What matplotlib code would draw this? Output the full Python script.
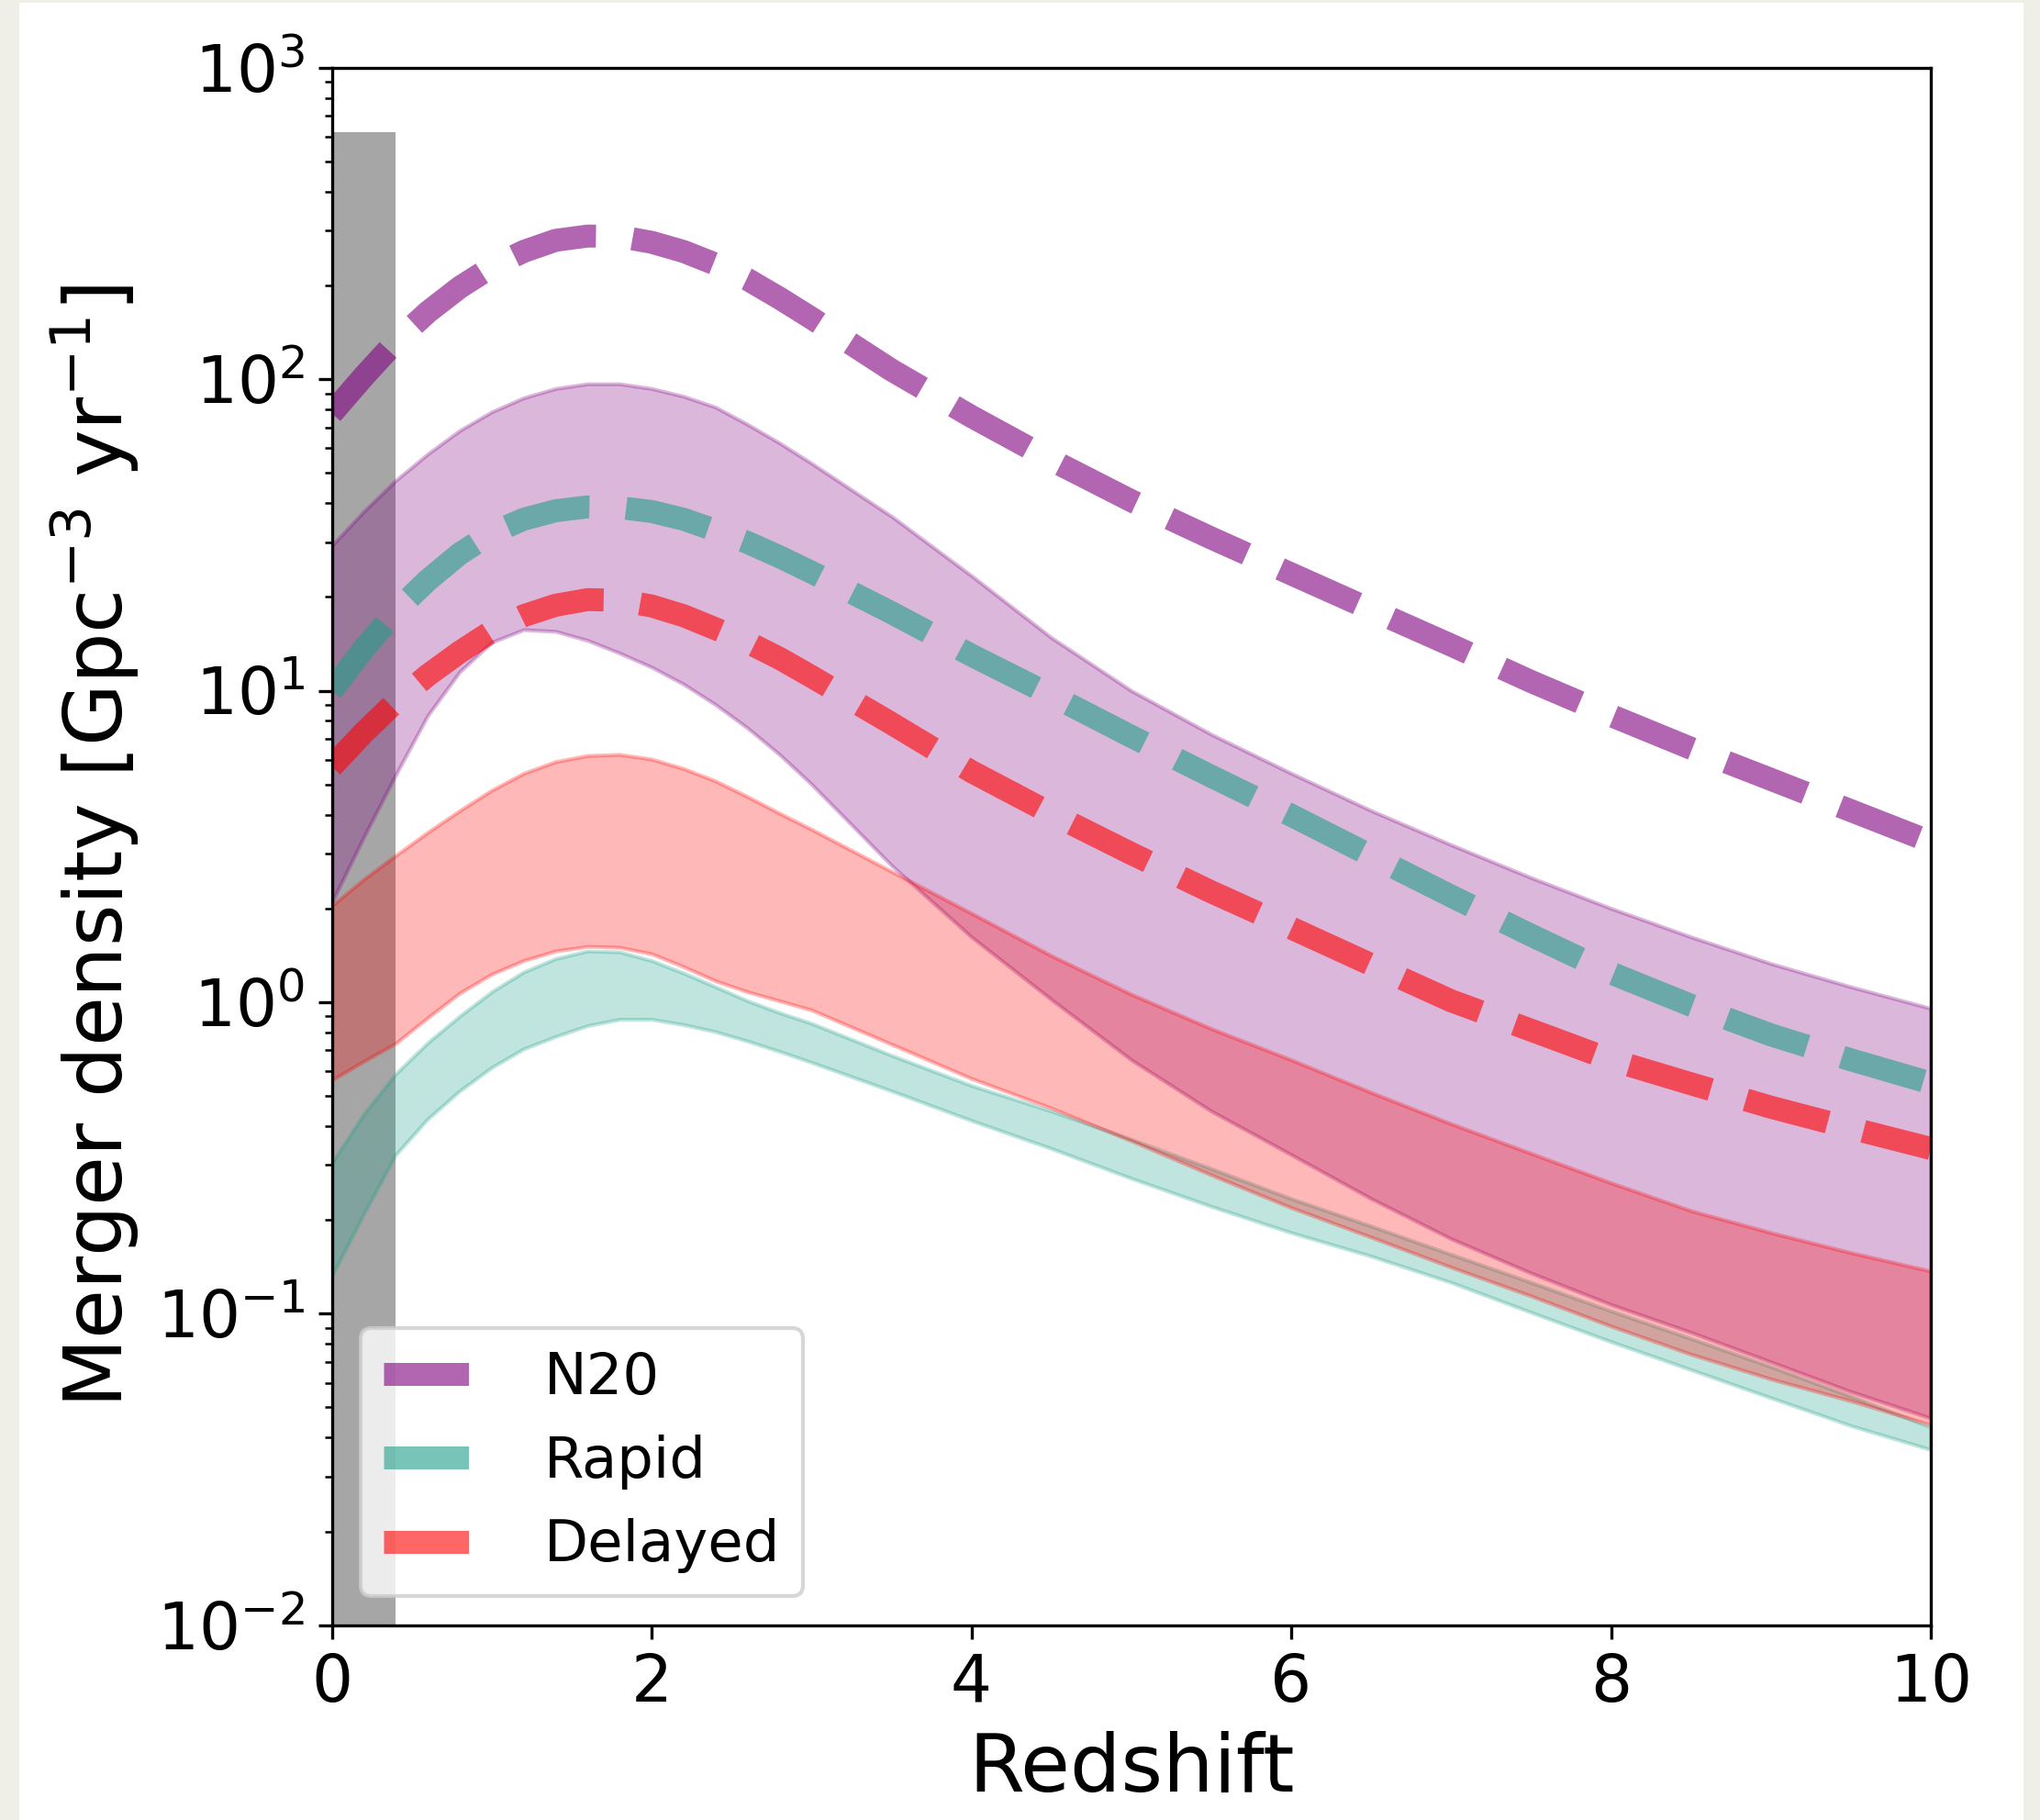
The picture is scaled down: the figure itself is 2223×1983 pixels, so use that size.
import matplotlib.pyplot as plt
from matplotlib.patches import Rectangle

# redshift grid the rates were tabulated on
z = [0, 0.2, 0.4, 0.6, 0.8, 1.0, 1.2, 1.4, 1.6, 1.8, 2.0, 2.2, 2.4, 2.6, 2.8, 3.0,
     3.5, 4.0, 4.5, 5.0, 5.5, 6.0, 6.5, 7.0, 7.5, 8.0, 8.5, 9.0, 9.5, 10]

# merger density, Gpc^-3 yr^-1
n20_mid = [77.6, 102, 132, 164, 197, 229, 257, 279, 288, 287, 275, 257, 234, 209, 182, 157,
           107, 75.9, 55.0, 40.7, 30.9, 23.7, 18.2, 14.0, 10.7, 8.32, 6.53, 5.19, 4.12, 3.27]
n20_hi = [29.2, 37.6, 47.3, 57.5, 68.4, 78.5, 87.1, 93.3, 96.6, 96.6, 93.3, 88.1, 81.3, 71.6, 62.4, 53.7,
          36.3, 23.4, 14.8, 10.0, 7.24, 5.43, 4.12, 3.20, 2.51, 2.0, 1.62, 1.33, 1.12, 0.955]
n20_lo = [2.09, 3.39, 5.37, 8.32, 11.5, 14.3, 15.7, 15.5, 14.5, 13.2, 11.9, 10.5, 9.02, 7.59, 6.24, 5.01,
          2.75, 1.62, 1.02, 0.653, 0.447, 0.324, 0.234, 0.174, 0.135, 0.107, 0.0871, 0.070, 0.0562, 0.0462]

rapid_mid = [10.0, 13.6, 18.0, 22.6, 27.5, 32.0, 35.5, 37.8, 38.9, 38.7, 37.6, 35.5, 32.7, 29.9, 26.9, 24.0,
             17.8, 13.0, 9.66, 7.13, 5.31, 3.98, 2.95, 2.19, 1.64, 1.24, 0.977, 0.785, 0.653, 0.550]
rapid_hi = [0.305, 0.437, 0.589, 0.741, 0.902, 1.08, 1.25, 1.38, 1.46, 1.45, 1.36, 1.24, 1.12, 1.01, 0.925, 0.855,
            0.675, 0.540, 0.447, 0.363, 0.292, 0.234, 0.191, 0.155, 0.126, 0.102, 0.0832, 0.0676, 0.0543, 0.0432]
rapid_lo = [0.132, 0.209, 0.324, 0.422, 0.519, 0.617, 0.708, 0.776, 0.841, 0.881, 0.881, 0.847, 0.804, 0.750, 0.695, 0.641,
            0.519, 0.417, 0.339, 0.272, 0.221, 0.182, 0.153, 0.126, 0.101, 0.0813, 0.0661, 0.0537, 0.0437, 0.0366]

delayed_mid = [5.70, 7.33, 9.20, 11.2, 13.3, 15.5, 17.4, 18.8, 19.6, 19.5, 18.7, 17.4, 15.8, 14.3, 12.7, 11.1,
               7.85, 5.50, 4.03, 3.00, 2.26, 1.73, 1.32, 1.01, 0.813, 0.653, 0.547, 0.460, 0.394, 0.339]
delayed_hi = [2.04, 2.48, 2.96, 3.51, 4.12, 4.79, 5.43, 5.92, 6.19, 6.24, 6.03, 5.62, 5.13, 4.57, 4.04, 3.59,
              2.63, 1.93, 1.41, 1.06, 0.822, 0.653, 0.513, 0.407, 0.327, 0.263, 0.214, 0.182, 0.157, 0.137]
delayed_lo = [0.562, 0.646, 0.738, 0.891, 1.07, 1.23, 1.36, 1.46, 1.51, 1.50, 1.43, 1.30, 1.17, 1.08, 1.01, 0.944,
              0.733, 0.569, 0.457, 0.359, 0.279, 0.219, 0.176, 0.141, 0.114, 0.0912, 0.0741, 0.0617, 0.0525, 0.0440]

labels = ['N20', 'Rapid', 'Delayed']
colors = ['purple', '#1f9e89', 'red']
mids = [n20_mid, rapid_mid, delayed_mid]
bands = [(n20_lo, n20_hi), (rapid_lo, rapid_hi), (delayed_lo, delayed_hi)]

# local-universe window
z_local = [0, 0.4]
local_top = 620

W, H = 2223, 1983
fig = plt.figure(figsize=(W / 300, H / 300), dpi=300, facecolor='#efeee7')
fig.add_artist(Rectangle((21 / W, 0), (2205 - 21) / W, 1 - 3 / H,
                         transform=fig.transFigure, facecolor='white', lw=0, zorder=-1))
fig.subplots_adjust(left=361.5 / W, right=2104 / W, bottom=1 - 1770.7 / H, top=1 - 73.7 / H)
ax = fig.add_subplot(111)

ax.fill_between(z_local, 1e-2, local_top, color='k', alpha=0.35, lw=0)

for (lo, hi), c in zip(bands, colors):
    ax.fill_between(z, lo, hi, color=c, alpha=0.28)

for m, c, lab in zip(mids, colors, labels):
    ax.plot(z, m, '--', color=c, lw=6, alpha=0.6, label=lab)

ax.set_yscale('log')
ax.set_xlim(0, 10)
ax.set_ylim(1e-2, 1e3)
ax.tick_params(labelsize=17)
ax.set_xlabel('Redshift', fontsize=21)
ax.set_ylabel('Merger density [Gpc$^{-3}$ yr$^{-1}$]', fontsize=21)
ax.legend(loc='lower left', fontsize=15)

fig.savefig('out.png', dpi=300, facecolor=fig.get_facecolor())
